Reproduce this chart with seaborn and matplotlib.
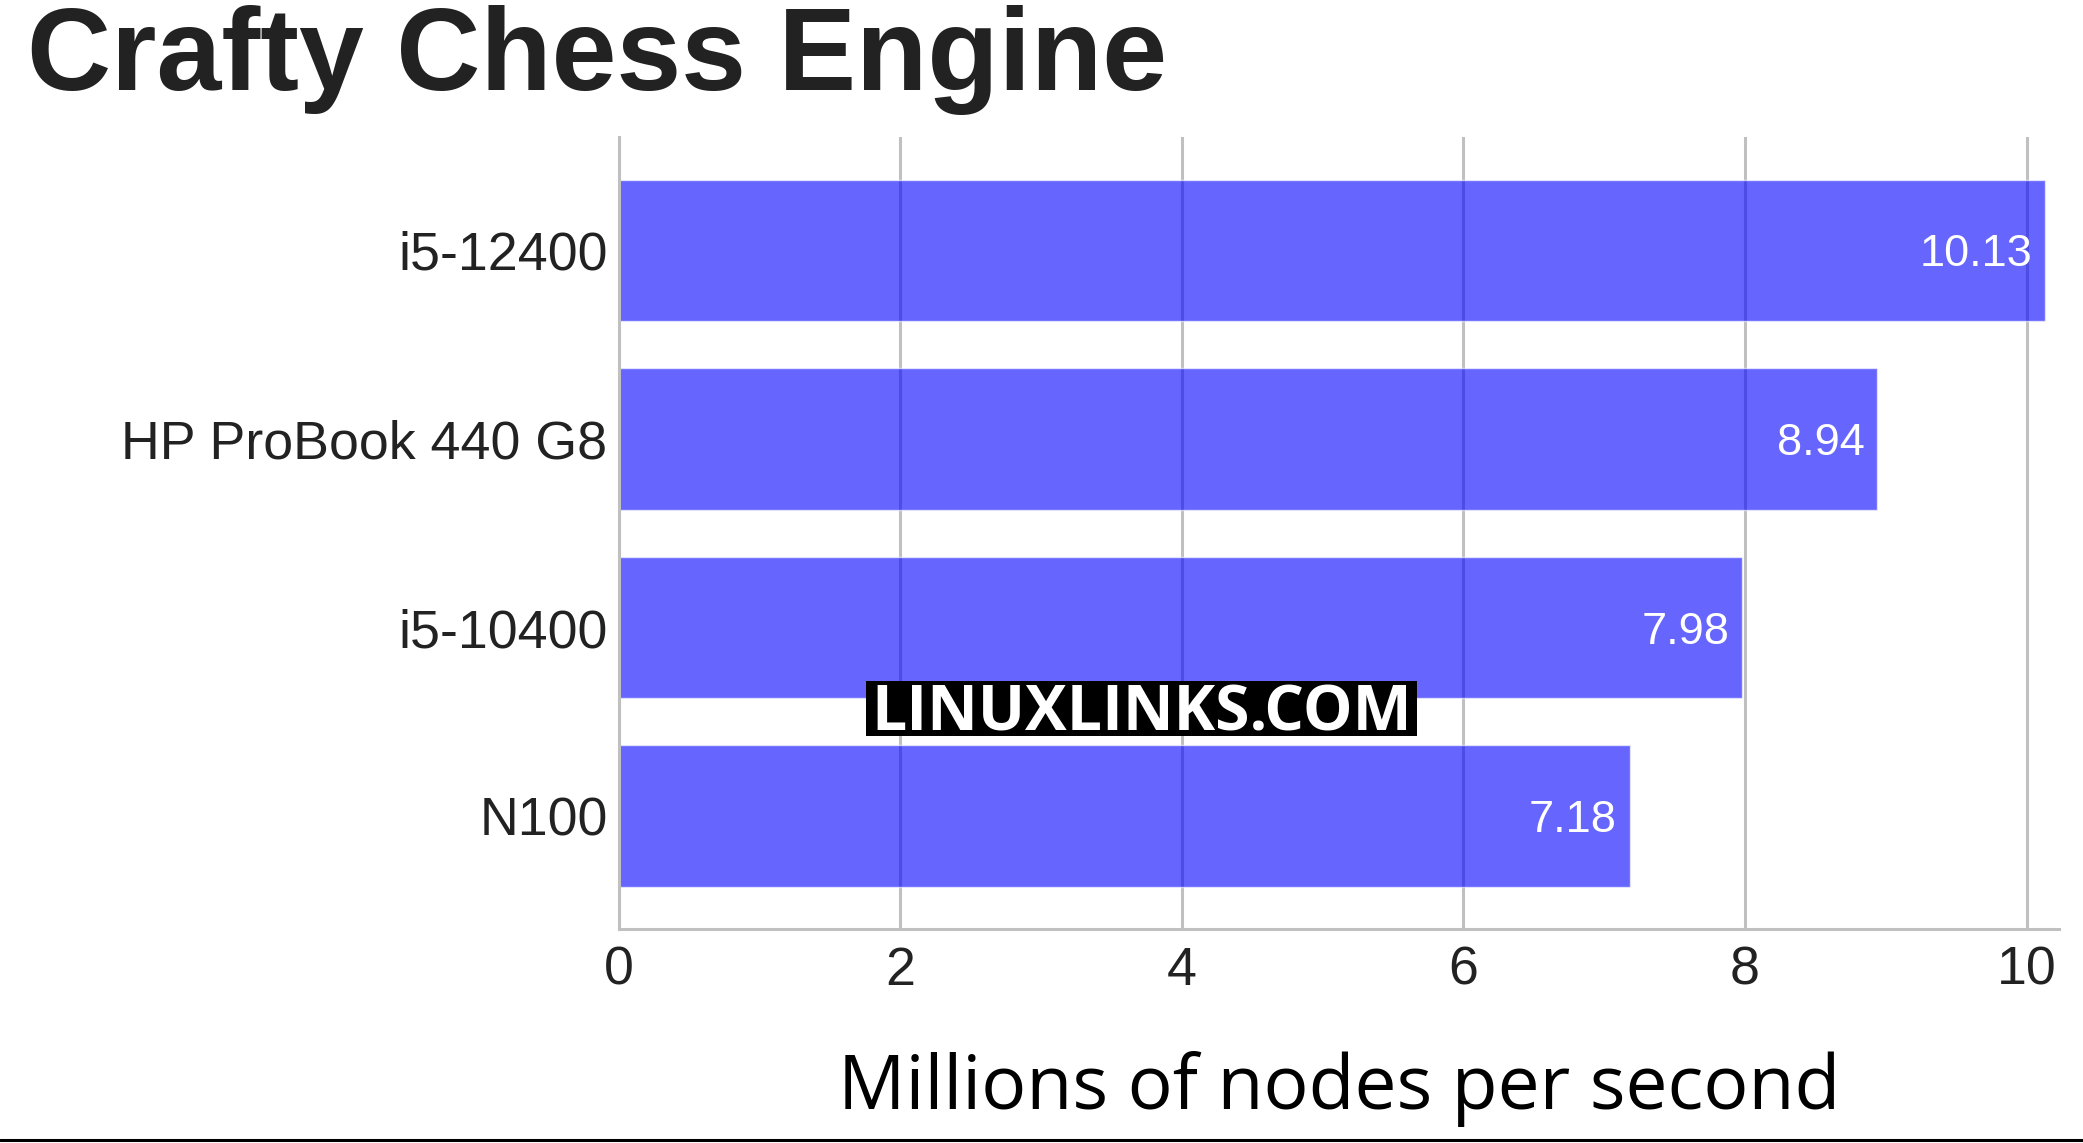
import matplotlib
matplotlib.use("Agg")
import matplotlib.pyplot as plt
import seaborn as sns
import pandas as pd
from matplotlib.lines import Line2D
from matplotlib.patches import Rectangle

# 数据
systems = ["i5-12400", "HP ProBook 440 G8", "i5-10400", "N100"]
mnps = [10.13, 8.94, 7.98, 7.18]
xticks = [0, 2, 4, 6, 8, 10]

df = pd.DataFrame({"system": systems, "mnps": mnps})

sns.set_theme(style="whitegrid")
plt.rcParams['font.family'] = ['Liberation Sans', 'DejaVu Sans']

fig = plt.figure(figsize=(20.83, 11.43), dpi=100)
ax = fig.add_axes([0.297, 0.187, 0.6915, 0.693])

sns.barplot(data=df, x="mnps", y="system", orient="h", color=(0, 0, 1),
            alpha=0.6, width=0.75, saturation=1, ax=ax)

ax.set_xlim(0, 10.23)
ax.set_ylim(3.6, -0.6)
ax.set_xticks(xticks)
ax.set_axisbelow(True)
ax.grid(axis="x", color="#c0c0c0", linewidth=2.2)
ax.grid(axis="y", visible=False)

for s in ["top", "right"]:
    ax.spines[s].set_visible(False)
for s in ["left", "bottom"]:
    ax.spines[s].set_color("#c0c0c0")
    ax.spines[s].set_linewidth(2.2)

ax.tick_params(axis="both", length=0, labelsize=38.7, labelcolor="#222222")
ax.tick_params(axis="y", pad=8)
ax.tick_params(axis="x", pad=12)
ax.set_ylabel("")
ax.set_xlabel("Millions of nodes per second", fontsize=54, family="Open Sans",
              color="black", labelpad=40)

# 数值标签
for i, v in enumerate(mnps):
    ax.text(v - 0.09, i, f"{v:.2f}", color="white", fontsize=32.5,
            ha="right", va="center_baseline")

fig.text(0.013, 0.921, "Crafty Chess Engine", fontsize=84, fontweight="bold",
         color="#222222", ha="left", va="baseline")

# 水印
base_y = 0.3605
wm = fig.text(0.548, base_y, "LINUXLINKS.COM", fontsize=45, fontweight="bold",
              family="Open Sans", color="white", ha="center", va="baseline",
              zorder=5)
fig.canvas.draw()
bb = wm.get_window_extent()
W, H = fig.bbox.width, fig.bbox.height
pad = 5
cap = 45
fig.add_artist(Rectangle(((bb.x0 - pad) / W, (base_y * H - pad) / H),
                         (bb.width + 2 * pad) / W, (cap + 2 * pad) / H,
                         transform=fig.transFigure, facecolor="black",
                         edgecolor="none", zorder=4))

fig.add_artist(Line2D([0, 1], [0.003, 0.003], transform=fig.transFigure,
                      color="black", linewidth=2.2))

fig.savefig("out.png", dpi=100, facecolor="white")
